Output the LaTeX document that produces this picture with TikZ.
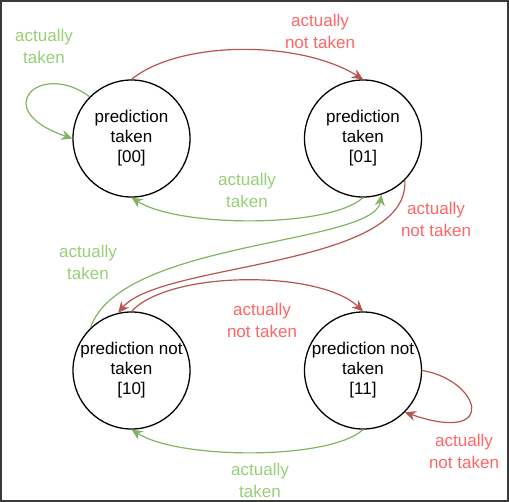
\documentclass[tikz,border=0pt]{standalone}
\usepackage{fontspec}
\setmainfont{Liberation Sans}
\usetikzlibrary{arrows.meta,positioning}
\definecolor{Frame}{HTML}{3A3A3A}
\definecolor{TakenLine}{HTML}{82B366}
\definecolor{TakenText}{HTML}{97D077}
\definecolor{NotLine}{HTML}{B85450}
\definecolor{NotText}{HTML}{FF6666}
\tikzset{
  statebox/.style={draw=black,fill=white,circle,line width=1.3pt,minimum size=117pt,inner sep=0pt,align=center,font=\fontsize{17}{20}\selectfont,text=black},
  takenlabel/.style={align=center,font=\fontsize{17}{22}\selectfont,text=TakenText,inner sep=1pt},
  notlabel/.style={align=center,font=\fontsize{17}{22}\selectfont,text=NotText,inner sep=1pt},
  takenline/.style={-{Stealth[length=11pt,width=10pt]},draw=TakenLine,line width=1.2pt},
  notline/.style={-{Stealth[length=11pt,width=10pt]},draw=NotLine,line width=1.2pt}
}
\begin{document}
\begin{tikzpicture}[x=1pt,y=-1pt]
  \useasboundingbox (0,0) rectangle (509,502);
  \draw[Frame,line width=1.5pt] (1,1) rectangle (508,501);

  % states
  \node[statebox] (s00) at (131.5,138.5) {prediction\\taken\\{}[00]};
  \node[statebox] (s01) at (363,138.5) {prediction\\taken\\{}[01]};
  \node[statebox] (s10) at (131.5,370.5) {prediction not\\taken\\{}[10]};
  \node[statebox] (s11) at (363,370.5) {prediction not\\taken\\{}[11]};

  % transitions
  \draw[takenline] (s00.135) .. controls (40,60) and (-12,110) .. (s00.180);
  \draw[notline] (s00.north) .. controls (180,40) and (300,40) .. (s01.north);
  \draw[takenline] (s01.south) .. controls (330,228) and (180,228) .. (s00.south);
  \draw[takenline] (s10.134) .. controls (120,240) and (375,245) .. (s01.-72);
  \draw[notline] (s01.-45) .. controls (410,268) and (160,262) .. (s10.103);
  \draw[notline] (s10.north) .. controls (170,270) and (320,270) .. (s11.north);
  \draw[notline] (s11.0) .. controls (480,380) and (500,445) .. (s11.-45);
  \draw[takenline] (s11.south) .. controls (330,460) and (180,460) .. (s10.south);

  % labels
  \node[takenlabel] (t1) at (44,46) {actually\\taken};
  \node[notlabel] (n1) at (320,31) {actually\\not taken};
  \node[takenlabel] (t2) at (247,190) {actually\\taken};
  \node[notlabel] (n2) at (436,219) {actually\\not taken};
  \node[takenlabel] (t3) at (88,262) {actually\\taken};
  \node[notlabel] (n3) at (262,320) {actually\\not taken};
  \node[notlabel] (n4) at (464,451) {actually\\not taken};
  \node[takenlabel] (t4) at (260,480) {actually\\taken};
\end{tikzpicture}
\end{document}
